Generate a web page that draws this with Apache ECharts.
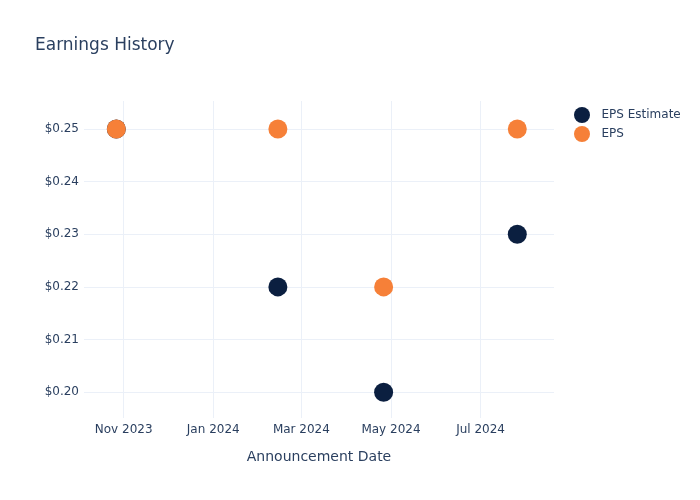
<!DOCTYPE html>
<html>
<head>
<meta charset="utf-8">
<script src="https://cdn.jsdelivr.net/npm/echarts@6/dist/echarts.min.js"></script>
<style>html,body{margin:0;padding:0;background:#fff}#c{width:700px;height:500px}</style>
</head>
<body>
<div id="c"></div>
<script>
const dates = ['2023-10-27', '2024-02-14', '2024-04-26', '2024-07-26'];
const epsEstimate = [0.25, 0.22, 0.20, 0.23];
const eps = [0.25, 0.25, 0.22, 0.25];
const monthNames = ['Jan','Feb','Mar','Apr','May','Jun','Jul','Aug','Sep','Oct','Nov','Dec'];
const xRange = ['2023-10-05', '2024-08-20'];
const yRange = [0.1951, 0.2553];

const DAY = 24 * 3600 * 1000;
const chart = echarts.init(document.getElementById('c'), null, {renderer: 'canvas'});
const font = '"DejaVu Sans", verdana, arial, sans-serif';
const textColor = '#2a3f5f';
const gridColor = '#ebf0f8';

chart.setOption({
  animation: false,
  backgroundColor: '#fff',
  textStyle: {fontFamily: font},
  title: {
    text: 'Earnings History',
    left: 35, top: 37, padding: 0,
    textStyle: {fontFamily: font, fontSize: 17, fontWeight: 'normal', color: textColor}
  },
  legend: {
    orient: 'vertical', left: 569, top: 102,
    icon: 'circle', itemWidth: 29, itemHeight: 16, itemGap: 3, symbolKeepAspect: true,
    textStyle: {fontFamily: font, fontSize: 12, color: textColor}
  },
  grid: {left: 84, right: 146, top: 101, bottom: 82},
  xAxis: {
    type: 'time',
    min: +echarts.time.parse(xRange[0]),
    max: +echarts.time.parse(xRange[1]),
    minInterval: 75 * DAY, maxInterval: 75 * DAY,
    name: 'Announcement Date', nameLocation: 'middle', nameGap: 32,
    nameTextStyle: {fontFamily: font, fontSize: 14, color: textColor},
    axisLine: {show: false}, axisTick: {show: false},
    axisLabel: {
      margin: 6, fontFamily: font, fontSize: 12, color: textColor,
      showMinLabel: false, showMaxLabel: false,
      formatter: function (v) { const d = new Date(v); return monthNames[d.getMonth()] + ' ' + d.getFullYear(); }
    },
    splitLine: {show: true, showMinLine: false, showMaxLine: false, lineStyle: {color: gridColor, width: 1}}
  },
  yAxis: {
    type: 'value', min: yRange[0], max: yRange[1], splitNumber: 6,
    axisLine: {show: false}, axisTick: {show: false},
    axisLabel: {
      margin: 5, fontFamily: font, fontSize: 12, color: textColor,
      showMinLabel: false, showMaxLabel: false,
      formatter: function (v) { return '$' + v.toFixed(2); }
    },
    splitLine: {show: true, showMinLine: false, showMaxLine: false, lineStyle: {color: gridColor, width: 1}}
  },
  series: [
    {name: 'EPS Estimate', type: 'scatter', symbolSize: 19,
     itemStyle: {color: '#0b1f40', opacity: 1},
     data: dates.map((d, i) => [d, epsEstimate[i]])},
    {name: 'EPS', type: 'scatter', symbolSize: 19,
     itemStyle: {color: '#f68038', opacity: 1},
     data: dates.map((d, i) => [d, eps[i]])}
  ]
});
</script>
</body>
</html>
